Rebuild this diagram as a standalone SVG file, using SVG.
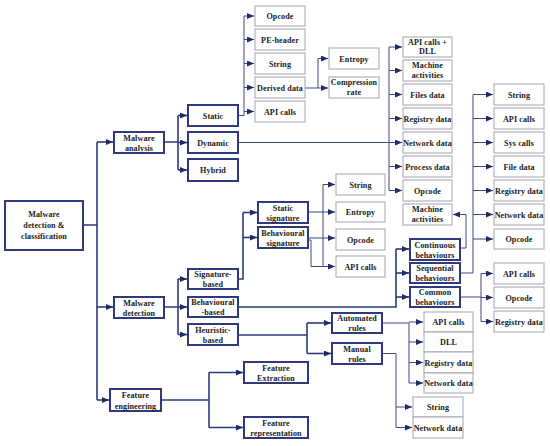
<svg xmlns="http://www.w3.org/2000/svg" width="550" height="446" viewBox="0 0 550 446">
<style>
.tb{fill:#fff;stroke:#2e3a7c;stroke-width:2}
.nb{fill:#fff;stroke:#a2a4ae;stroke-width:1}
.t{font-family:"Liberation Serif",serif;font-weight:bold;font-size:8.1px;letter-spacing:0.1px;fill:#1a1a1a;text-anchor:middle}
.c{fill:none;stroke:#2e3a7c;stroke-width:1.6}
.c2{fill:none;stroke:#3d4884;stroke-width:1}
</style>
<defs>
<marker id="a" markerUnits="userSpaceOnUse" markerWidth="7" markerHeight="6" refX="7" refY="3" orient="auto"><path d="M0,0 L7,3 L0,6 z" fill="#1f2a66"/></marker>
</defs>
<rect width="550" height="446" fill="#fff"/>
<g id="connectors">
<path class="c" d="M83,225 H97 M97,142 V400"/>
<path class="c" marker-end="url(#a)" d="M97,142 H113"/>
<path class="c" marker-end="url(#a)" d="M97,307 H113"/>
<path class="c" marker-end="url(#a)" d="M97,400 H109"/>
<path class="c" d="M164,142 H178 M178,115.5 V170"/>
<path class="c" marker-end="url(#a)" d="M178,115.5 H187"/>
<path class="c" marker-end="url(#a)" d="M178,142.5 H187"/>
<path class="c" marker-end="url(#a)" d="M178,170 H187"/>
<path class="c2" d="M238,115.5 H244 V16"/>
<path class="c2" marker-end="url(#a)" d="M244,16 H254"/>
<path class="c2" marker-end="url(#a)" d="M244,39.5 H254"/>
<path class="c2" marker-end="url(#a)" d="M244,63.5 H254"/>
<path class="c2" marker-end="url(#a)" d="M244,87.5 H254"/>
<path class="c2" marker-end="url(#a)" d="M244,111.5 H254"/>
<path class="c2" d="M305,88 H318 V58.5"/>
<path class="c2" marker-end="url(#a)" d="M318,58.5 H328"/>
<path class="c2" marker-end="url(#a)" d="M318,88 H328"/>
<path class="c2" marker-end="url(#a)" d="M238,142.5 H402"/>
<path class="c2" d="M389,47 V190.5"/>
<path class="c2" marker-end="url(#a)" d="M389,47 H402"/>
<path class="c2" marker-end="url(#a)" d="M389,70.5 H402"/>
<path class="c2" marker-end="url(#a)" d="M389,94.5 H402"/>
<path class="c2" marker-end="url(#a)" d="M389,118.5 H402"/>
<path class="c2" marker-end="url(#a)" d="M389,166.5 H402"/>
<path class="c2" marker-end="url(#a)" d="M389,190.5 H402"/>
<path class="c2" d="M460,273 H473 V94.5"/>
<path class="c2" marker-end="url(#a)" d="M473,94.5 H493"/>
<path class="c2" marker-end="url(#a)" d="M473,118.5 H493"/>
<path class="c2" marker-end="url(#a)" d="M473,142.5 H493"/>
<path class="c2" marker-end="url(#a)" d="M473,166.5 H493"/>
<path class="c2" marker-end="url(#a)" d="M473,190.5 H493"/>
<path class="c2" marker-end="url(#a)" d="M473,214.5 H493"/>
<path class="c2" marker-end="url(#a)" d="M473,239 H493"/>
<path class="c2" marker-end="url(#a)" d="M460,248 H466 V214.5 H453"/>
<path class="c" d="M164,307 H178 M178,279 V334.5"/>
<path class="c" marker-end="url(#a)" d="M178,279 H187"/>
<path class="c" marker-end="url(#a)" d="M178,307 H187"/>
<path class="c" marker-end="url(#a)" d="M178,334.5 H187"/>
<path class="c" d="M238,279 H243 V212.5"/>
<path class="c" marker-end="url(#a)" d="M243,212.5 H257"/>
<path class="c" marker-end="url(#a)" d="M243,237.5 H257"/>
<path class="c2" d="M308,212 H323 M323,184.5 V266.5 M308,240 H311 V266.5 H323"/>
<path class="c2" marker-end="url(#a)" d="M323,184.5 H335"/>
<path class="c2" marker-end="url(#a)" d="M323,212 H335"/>
<path class="c2" marker-end="url(#a)" d="M308,238 H335"/>
<path class="c2" marker-end="url(#a)" d="M323,266.5 H335"/>
<path class="c" d="M238,307 H396 V249"/>
<path class="c" marker-end="url(#a)" d="M396,249 H409"/>
<path class="c" marker-end="url(#a)" d="M396,273 H409"/>
<path class="c" marker-end="url(#a)" d="M396,297 H409"/>
<path class="c2" d="M460,297 H481 M481,273.5 V321.5"/>
<path class="c2" marker-end="url(#a)" d="M481,273.5 H493"/>
<path class="c2" marker-end="url(#a)" d="M481,297.5 H493"/>
<path class="c2" marker-end="url(#a)" d="M481,321.5 H493"/>
<path class="c" d="M238,335 H307 M307,323 V353.5"/>
<path class="c" marker-end="url(#a)" d="M307,323 H331"/>
<path class="c" marker-end="url(#a)" d="M307,353.5 H331"/>
<path class="c2" d="M382,323 H409 V383"/>
<path class="c2" marker-end="url(#a)" d="M409,322 H423"/>
<path class="c2" marker-end="url(#a)" d="M409,342 H423"/>
<path class="c2" marker-end="url(#a)" d="M409,362.5 H423"/>
<path class="c2" marker-end="url(#a)" d="M409,383 H423"/>
<path class="c2" d="M382,353.5 H396 V427.5"/>
<path class="c2" marker-end="url(#a)" d="M396,407 H412"/>
<path class="c2" marker-end="url(#a)" d="M396,427.5 H412"/>
<path class="c" d="M161,400 H209 M209,372.5 V427.5"/>
<path class="c" marker-end="url(#a)" d="M209,372.5 H243"/>
<path class="c" marker-end="url(#a)" d="M209,427.5 H243"/>
</g>

<g id="root"><rect class="tb" x="5" y="201" width="78" height="49"/><text class="t" x="44" y="217"><tspan x="44">Malware</tspan><tspan x="44" dy="11">detection &amp;</tspan><tspan x="44" dy="11">classification</tspan></text></g>
<g id="malware-analysis"><rect class="tb" x="114" y="132" width="50" height="21"/><text class="t" x="139" y="140.5"><tspan x="139">Malware</tspan><tspan x="139" dy="10">analysis</tspan></text></g>
<g id="static"><rect class="tb" x="188" y="105" width="50" height="21"/><text class="t" x="213" y="118.5">Static</text></g>
<g id="dynamic"><rect class="tb" x="188" y="132" width="50" height="21"/><text class="t" x="213" y="145.5">Dynamic</text></g>
<g id="hybrid"><rect class="tb" x="188" y="159" width="50" height="22"/><text class="t" x="213" y="173">Hybrid</text></g>

<g id="s-opcode"><rect class="nb" x="255" y="6" width="50" height="20"/><text class="t" x="280" y="19">Opcode</text></g>
<g id="s-pe"><rect class="nb" x="255" y="29" width="50" height="21"/><text class="t" x="280" y="42.5">PE-header</text></g>
<g id="s-string"><rect class="nb" x="255" y="53" width="50" height="21"/><text class="t" x="280" y="66.5">String</text></g>
<g id="s-derived"><rect class="nb" x="255" y="77" width="50" height="21"/><text class="t" x="280" y="90.5">Derived data</text></g>
<g id="s-api"><rect class="nb" x="255" y="101" width="50" height="21"/><text class="t" x="280" y="114.5">API calls</text></g>
<g id="entropy"><rect class="nb" x="329" y="48" width="50" height="21"/><text class="t" x="354" y="61.5">Entropy</text></g>
<g id="compression"><rect class="nb" x="329" y="77" width="50" height="21"/><text class="t" x="354" y="85"><tspan x="354">Compression</tspan><tspan x="354" dy="9.5">rate</tspan></text></g>

<g id="d-apidll"><rect class="nb" x="403" y="37" width="49" height="20"/><text class="t" x="427.5" y="44.5"><tspan x="427.5">API calls +</tspan><tspan x="427.5" dy="9.5">DLL</tspan></text></g>
<g id="d-machine"><rect class="nb" x="403" y="60" width="49" height="21"/><text class="t" x="427.5" y="68"><tspan x="427.5">Machine</tspan><tspan x="427.5" dy="9.5">activities</tspan></text></g>
<g id="d-files"><rect class="nb" x="403" y="84" width="49" height="21"/><text class="t" x="427.5" y="97.5">Files data</text></g>
<g id="d-registry"><rect class="nb" x="403" y="108" width="49" height="21"/><text class="t" x="427.5" y="121.5">Registry data</text></g>
<g id="d-network"><rect class="nb" x="403" y="132" width="49" height="21"/><text class="t" x="427.5" y="145.5">Network data</text></g>
<g id="d-process"><rect class="nb" x="403" y="156" width="49" height="21"/><text class="t" x="427.5" y="169.5">Process data</text></g>
<g id="d-opcode"><rect class="nb" x="403" y="180" width="49" height="21"/><text class="t" x="427.5" y="193.5">Opcode</text></g>

<g id="q-string"><rect class="nb" x="494" y="84" width="50" height="21"/><text class="t" x="519" y="97.5">String</text></g>
<g id="q-api"><rect class="nb" x="494" y="108" width="50" height="21"/><text class="t" x="519" y="121.5">API calls</text></g>
<g id="q-sys"><rect class="nb" x="494" y="132" width="50" height="21"/><text class="t" x="519" y="145.5">Sys calls</text></g>
<g id="q-file"><rect class="nb" x="494" y="156" width="50" height="21"/><text class="t" x="519" y="169.5">File data</text></g>
<g id="q-registry"><rect class="nb" x="494" y="180" width="50" height="21"/><text class="t" x="519" y="193.5">Registry data</text></g>
<g id="q-network"><rect class="nb" x="494" y="204" width="50" height="21"/><text class="t" x="519" y="217.5">Network data</text></g>
<g id="q-opcode"><rect class="nb" x="494" y="229" width="50" height="20"/><text class="t" x="519" y="242">Opcode</text></g>

<g id="c-machine"><rect class="nb" x="403" y="204" width="49" height="21"/><text class="t" x="427.5" y="212"><tspan x="427.5">Machine</tspan><tspan x="427.5" dy="9.5">activities</tspan></text></g>

<g id="malware-detection"><rect class="tb" x="114" y="297" width="50" height="21"/><text class="t" x="139" y="305.5"><tspan x="139">Malware</tspan><tspan x="139" dy="10">detection</tspan></text></g>
<g id="signature-based"><rect class="tb" x="188" y="269" width="50" height="20"/><text class="t" x="213" y="277"><tspan x="213">Signature-</tspan><tspan x="213" dy="10">based</tspan></text></g>
<g id="behavioural-based"><rect class="tb" x="188" y="297" width="50" height="20"/><text class="t" x="213" y="305"><tspan x="213">Behavioural</tspan><tspan x="213" dy="10">-based</tspan></text></g>
<g id="heuristic-based"><rect class="tb" x="188" y="324" width="50" height="21"/><text class="t" x="213" y="332.5"><tspan x="213">Heuristic-</tspan><tspan x="213" dy="10">based</tspan></text></g>
<g id="static-signature"><rect class="tb" x="258" y="202" width="50" height="21"/><text class="t" x="283" y="210.5"><tspan x="283">Static</tspan><tspan x="283" dy="10">signature</tspan></text></g>
<g id="behavioural-signature"><rect class="tb" x="258" y="227" width="50" height="21"/><text class="t" x="283" y="235.5"><tspan x="283">Behavioural</tspan><tspan x="283" dy="10">signature</tspan></text></g>

<g id="g-string"><rect class="nb" x="336" y="174" width="49" height="21"/><text class="t" x="360.5" y="187.5">String</text></g>
<g id="g-entropy"><rect class="nb" x="336" y="202" width="49" height="20"/><text class="t" x="360.5" y="215">Entropy</text></g>
<g id="g-opcode"><rect class="nb" x="336" y="229" width="49" height="21"/><text class="t" x="360.5" y="242.5">Opcode</text></g>
<g id="g-api"><rect class="nb" x="336" y="256" width="49" height="21"/><text class="t" x="360.5" y="269.5">API calls</text></g>

<g id="continuous"><rect class="tb" x="410" y="239" width="50" height="21"/><text class="t" x="435" y="247.5"><tspan x="435">Continuous</tspan><tspan x="435" dy="10">behaviours</tspan></text></g>
<g id="sequential"><rect class="tb" x="410" y="263" width="50" height="20"/><text class="t" x="435" y="271"><tspan x="435">Sequential</tspan><tspan x="435" dy="10">behaviours</tspan></text></g>
<g id="common"><rect class="tb" x="410" y="287" width="50" height="20"/><text class="t" x="435" y="295"><tspan x="435">Common</tspan><tspan x="435" dy="10">behaviours</tspan></text></g>

<g id="m-api"><rect class="nb" x="494" y="263" width="50" height="21"/><text class="t" x="519" y="276.5">API calls</text></g>
<g id="m-opcode"><rect class="nb" x="494" y="287" width="50" height="21"/><text class="t" x="519" y="300.5">Opcode</text></g>
<g id="m-registry"><rect class="nb" x="494" y="311" width="50" height="21"/><text class="t" x="519" y="324.5">Registry data</text></g>

<g id="automated"><rect class="tb" x="332" y="313" width="50" height="20"/><text class="t" x="357" y="321"><tspan x="357">Automated</tspan><tspan x="357" dy="10">rules</tspan></text></g>
<g id="manual"><rect class="tb" x="332" y="343" width="50" height="21"/><text class="t" x="357" y="351.5"><tspan x="357">Manual</tspan><tspan x="357" dy="10">rules</tspan></text></g>

<g id="a-api"><rect class="nb" x="424" y="312" width="49" height="20"/><text class="t" x="448.5" y="325">API calls</text></g>
<g id="a-dll"><rect class="nb" x="424" y="332" width="49" height="20"/><text class="t" x="448.5" y="345">DLL</text></g>
<g id="a-registry"><rect class="nb" x="424" y="352" width="49" height="21"/><text class="t" x="448.5" y="365.5">Registry data</text></g>
<g id="a-network"><rect class="nb" x="424" y="373" width="49" height="20"/><text class="t" x="448.5" y="386">Network data</text></g>

<g id="r-string"><rect class="nb" x="413" y="397" width="50" height="20"/><text class="t" x="438" y="410">String</text></g>
<g id="r-network"><rect class="nb" x="413" y="417" width="50" height="21"/><text class="t" x="438" y="430.5">Network data</text></g>

<g id="feature-engineering"><rect class="tb" x="110" y="389" width="51" height="22"/><text class="t" x="135.5" y="398"><tspan x="135.5">Feature</tspan><tspan x="135.5" dy="10.5">engineering</tspan></text></g>
<g id="feature-extraction"><rect class="tb" x="244" y="362" width="64" height="21"/><text class="t" x="276" y="370.5"><tspan x="276">Feature</tspan><tspan x="276" dy="10">Extraction</tspan></text></g>
<g id="feature-representation"><rect class="tb" x="244" y="417" width="64" height="21"/><text class="t" x="276" y="425.5"><tspan x="276">Feature</tspan><tspan x="276" dy="10">representation</tspan></text></g>
</svg>
